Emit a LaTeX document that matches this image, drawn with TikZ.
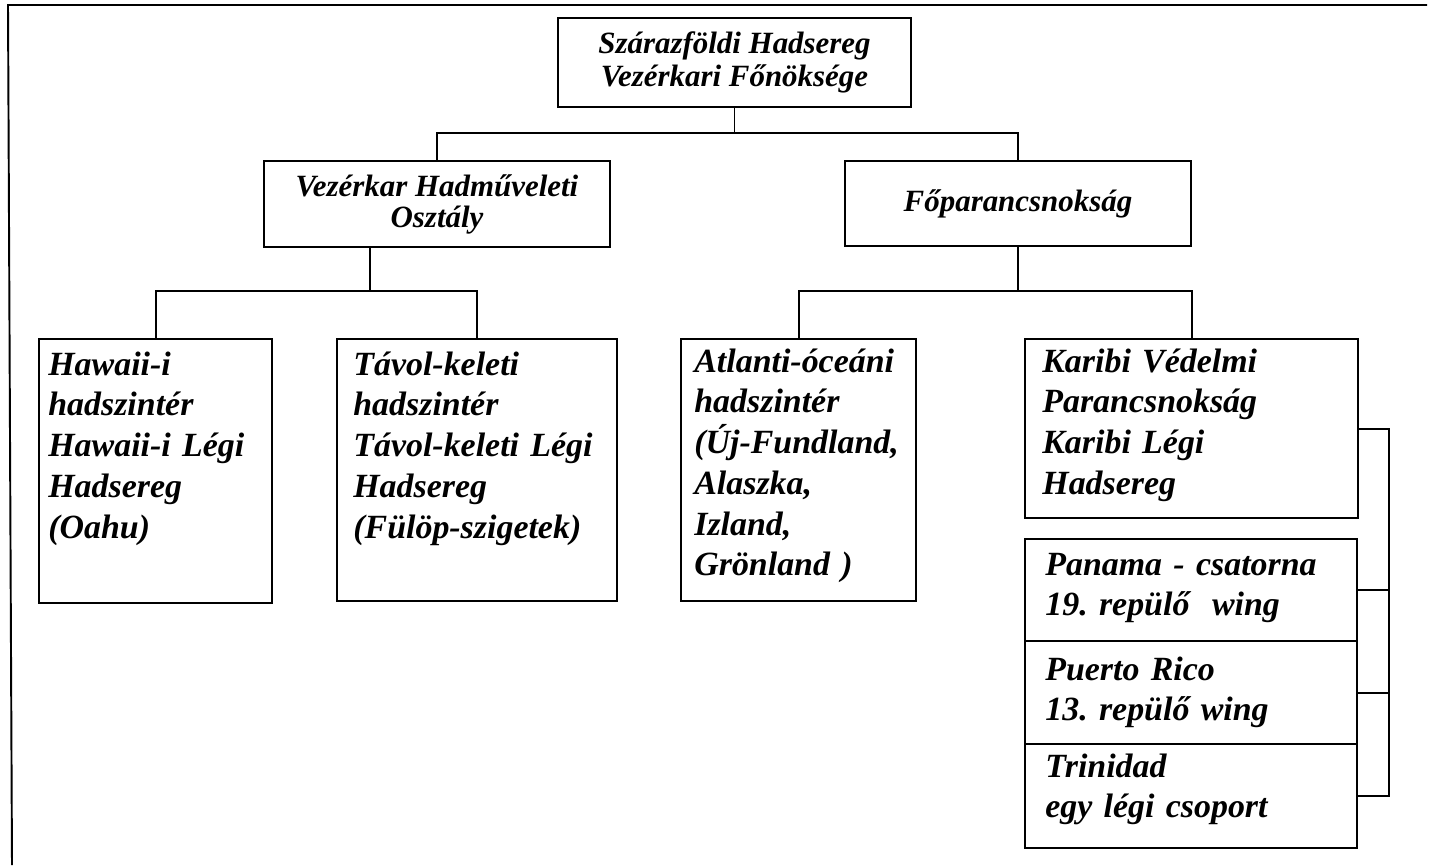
\documentclass[tikz,border=0pt]{standalone}
\usepackage{fontspec}
\setmainfont{Liberation Serif}
\usetikzlibrary{calc}
\tikzset{
  bx/.style={draw, line width=1.4pt, rectangle, inner sep=0pt, anchor=north west},
  hb/.style={draw, line width=1.4pt, rectangle, inner sep=0pt, align=center,
             font=\bfseries\itshape\fontsize{17.6pt}{18.7pt}\selectfont},
  tb/.style={inner sep=0pt, anchor=base west, align=left, text width=6cm,
             font=\bfseries\itshape\fontsize{19.3pt}{23.2pt}\selectfont},
  ln/.style={line width=1.1pt},
}
\frenchspacing
\begin{document}
\begin{tikzpicture}[x=0.02cm, y=-0.02cm]
\useasboundingbox (0,0) rectangle (1442,865);
% frame
\draw[ln] (1427,5) -- (8,5) -- (12,865);
% level 0 and 1
\node[hb, minimum width=7.06cm, minimum height=1.78cm] (top) at (734.5,62.5)
  {Szárazföldi Hadsereg\\Vezérkari Főnöksége};
\node[hb, minimum width=6.92cm, minimum height=1.72cm,
      font=\bfseries\itshape\fontsize{17.6pt}{17.6pt}\selectfont] (vez) at (437,204)
  {Vezérkar Hadműveleti\\Osztály};
\node[hb, minimum width=6.92cm, minimum height=1.70cm] (fo) at (1018,203.5)
  {Főparancsnokság};
% level 2 boxes
\node[bx, minimum width=4.66cm, minimum height=5.28cm] (haw) at (38,338) {};
\node[bx, minimum width=5.60cm, minimum height=5.24cm] (tav) at (336,338) {};
\node[bx, minimum width=4.70cm, minimum height=5.24cm] (atl) at (680,338) {};
\node[bx, minimum width=6.66cm, minimum height=3.58cm] (kar) at (1024,338) {};
\node[bx, minimum width=6.64cm, minimum height=2.04cm] (pan) at (1024,538) {};
\node[bx, minimum width=6.64cm, minimum height=2.06cm] (pue) at (1024,640) {};
\node[bx, minimum width=6.64cm, minimum height=2.08cm] (tri) at (1024,743) {};
% texts
\node[tb] (hawt) at ([shift={(10,37)}]haw.north west)
  {Hawaii-i\\hadszintér\\Hawaii-i Légi\\Hadsereg\\(Oahu)};
\node[tb] (tavt) at ([shift={(17,37)}]tav.north west)
  {Távol-keleti\\hadszintér\\Távol-keleti Légi\\Hadsereg\\(Fülöp-szigetek)};
\node[tb] (atlt) at ([shift={(14,34)}]atl.north west)
  {Atlanti-óceáni\\hadszintér\\(Új-Fundland,\\Alaszka,\\Izland,\\Grönland )};
\node[tb] (kart) at ([shift={(18,34)}]kar.north west)
  {Karibi Védelmi\\Parancsnokság\\Karibi Légi\\Hadsereg};
\node[tb] (pant) at ([shift={(21,37)}]pan.north west)
  {Panama - csatorna\\19. repülő\ \ wing};
\node[tb] (puet) at ([shift={(21,40)}]pue.north west)
  {Puerto Rico\\13. repülő wing};
\node[tb] (trit) at ([shift={(21,34)}]tri.north west)
  {Trinidad\\egy légi csoport};
% connectors
\draw[ln] (top.south) -- ++(0,25) coordinate (j1);
\draw[ln] (vez.north) |- (j1) -| (fo.north);
\draw[ln] ([xshift=-1.34cm]vez.south) -- ++(0,43) coordinate (j2);
\draw[ln] (haw.north) |- (j2) -| (tav.north);
\draw[ln] (fo.south) -- ++(0,44) coordinate (j3);
\draw[ln] (atl.north) |- (j3) -| (kar.north);
\draw[ln] (kar.east) -- ++(30,0) coordinate (k1) -- (k1 |- tri.east) -- (tri.east);
\draw[ln] (pan.east) -- (pan.east -| k1);
\draw[ln] (pue.east) -- (pue.east -| k1);
\end{tikzpicture}
\end{document}
